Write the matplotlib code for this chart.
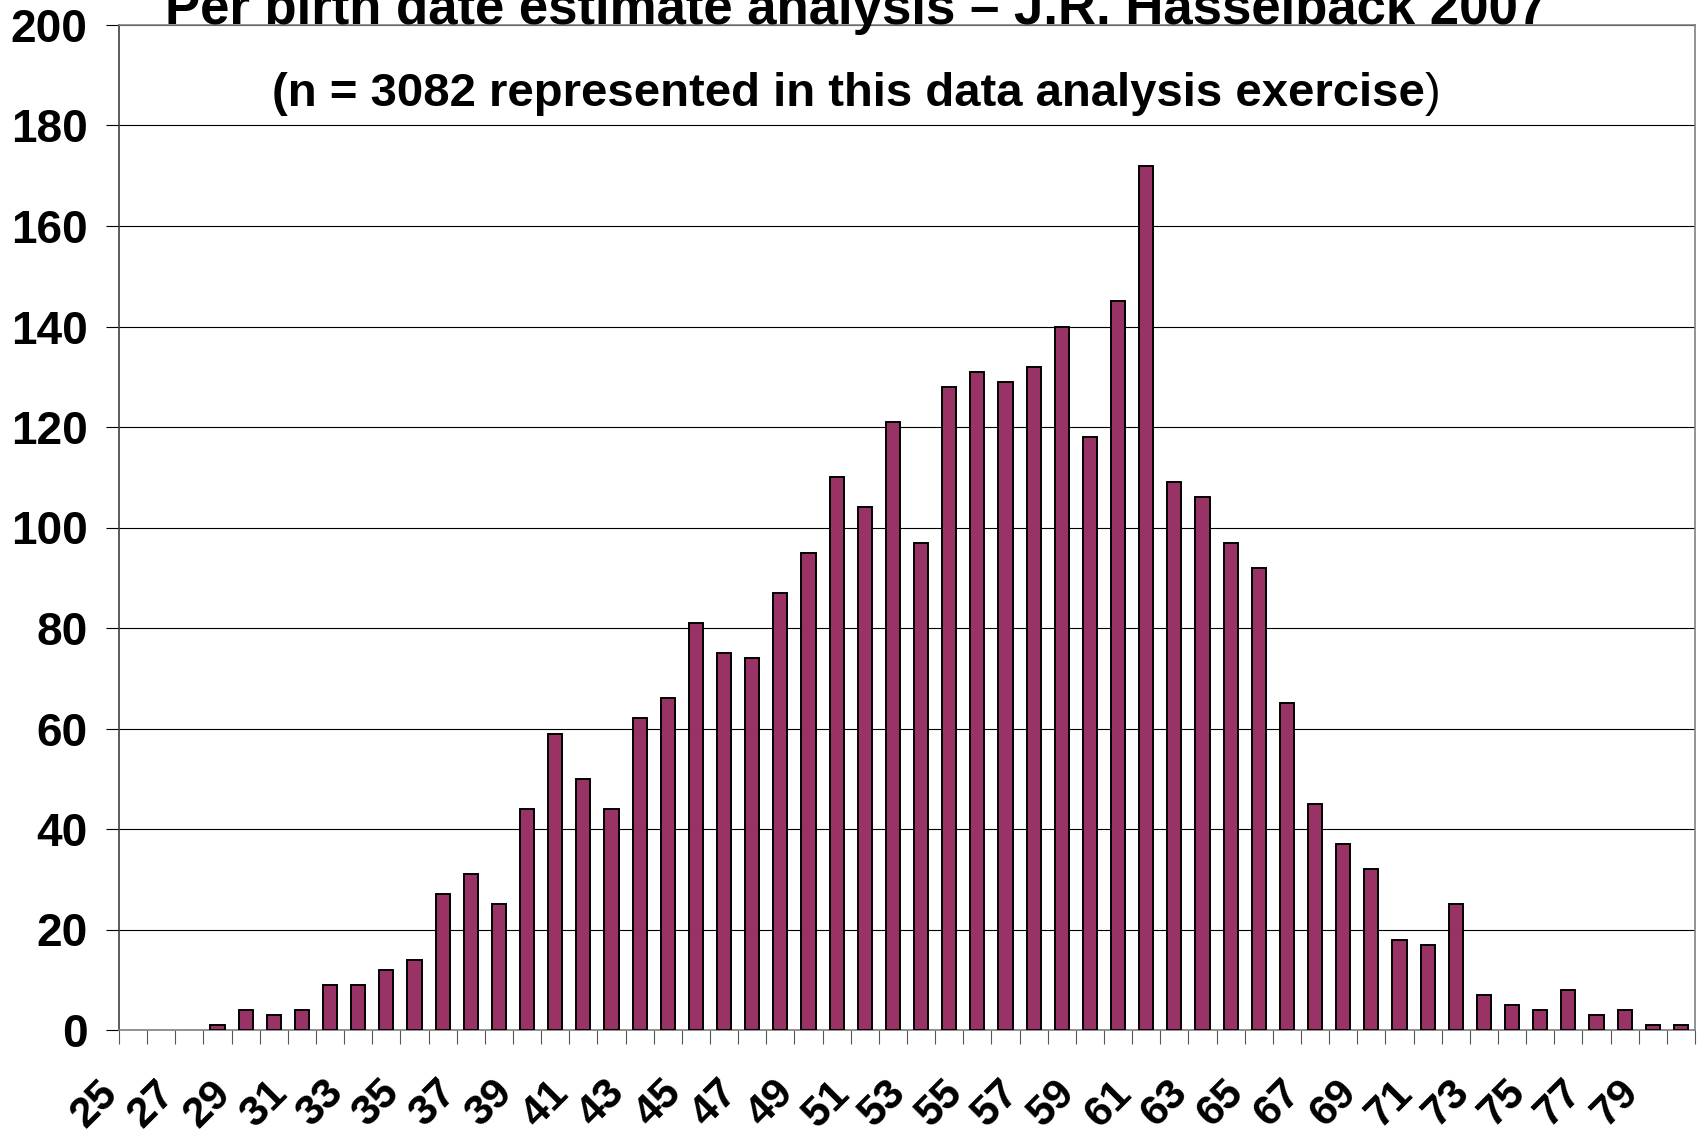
"""
Birth date estimate histogram (Hasselback 2007) redrawn with matplotlib
"""

import matplotlib

matplotlib.use("Agg")
import matplotlib.pyplot as plt
import matplotlib.transforms as mtransforms
import numpy as np

# ages 25..80, one bar per age
ages = list(range(25, 81))
counts = [
    0, 0, 0, 1, 4, 3, 4, 9, 9, 12,
    14, 27, 31, 25, 44, 59, 50, 44, 62, 66,
    81, 75, 74, 87, 95, 110, 104, 121, 97, 128,
    131, 129, 132, 140, 118, 145, 172, 109, 106, 97,
    92, 65, 45, 37, 32, 18, 17, 25, 7, 5,
    4, 8, 3, 4, 1, 1,
]
y_ticks = [0, 20, 40, 60, 80, 100, 120, 140, 160, 180, 200]
title = "Per birth date estimate analysis \u2013 J.R. Hasselback 2007"
subtitle = "(n = 3082 represented in this data analysis exercise"

plt.rcParams["font.family"] = ["Liberation Sans", "DejaVu Sans"]

W, H = 1702, 1139
fig = plt.figure(figsize=(W / 100, H / 100), dpi=100)
ax = fig.add_axes([119 / W, 1 - 1030 / H, (1695 - 119) / W, (1030 - 25) / H])

x = np.arange(len(ages))
bars = ax.bar(x, counts, width=0.5, color="#993366", edgecolor="black", linewidth=1.4, zorder=3)
# empty categories show no outline
for patch, c in zip(bars.patches, counts):
    if c == 0:
        patch.set_linewidth(0)

ax.set_xlim(-0.5, len(ages) - 0.5)
ax.set_ylim(0, 200)

# horizontal gridlines
ax.set_yticks(y_ticks)
ax.yaxis.grid(True, color="black", linewidth=0.8, zorder=1)
ax.tick_params(axis="y", direction="out", length=9.5, width=0.8, pad=13, labelsize=33)
for lbl in ax.get_yticklabels():
    lbl.set_fontweight("bold")

# x ticks on category boundaries, labels on every other category
ax.set_xticks(np.arange(-0.5, len(ages), 1.0))
ax.set_xticklabels([])
ax.tick_params(axis="x", which="major", direction="out", length=10, width=0.8, color="#555555")
odd_idx = [i for i, a in enumerate(ages) if a % 2 == 1]
ax.set_xticks(odd_idx, minor=True)
ax.set_xticklabels([str(ages[i]) for i in odd_idx], minor=True)
ax.tick_params(axis="x", which="minor", length=0, pad=41, labelsize=31)
shift = mtransforms.ScaledTranslation(-21 / 100, 0, fig.dpi_scale_trans)
for lbl in ax.get_xticklabels(minor=True):
    lbl.set_rotation(45)
    lbl.set_ha("right")
    lbl.set_va("center")
    lbl.set_rotation_mode("anchor")
    lbl.set_fontweight("bold")
    lbl.set_transform(lbl.get_transform() + shift)

for side in ["top", "right", "bottom"]:
    ax.spines[side].set_color("#808080")
    ax.spines[side].set_linewidth(1.2)
ax.spines["left"].set_color("#404040")
ax.spines["left"].set_linewidth(1.2)

# title, mostly cut off at top edge
fig.text(856 / W, 1 - 24 / H, title, ha="center", va="baseline", fontsize=38, fontweight="bold")

# subtitle: bold text with a regular closing bracket, centred as one line
renderer = fig.canvas.get_renderer()
t1 = fig.text(0, 1 - 106 / H, subtitle, ha="left", va="baseline", fontsize=34, fontweight="bold")
t2 = fig.text(0, 1 - 106 / H, ")", ha="left", va="baseline", fontsize=34)
w1 = t1.get_window_extent(renderer).width
w2 = t2.get_window_extent(renderer).width
x0 = 856 - (w1 + w2) / 2
t1.set_x(x0 / W)
t2.set_x((x0 + w1) / W)

fig.savefig("out.png", dpi=100)
